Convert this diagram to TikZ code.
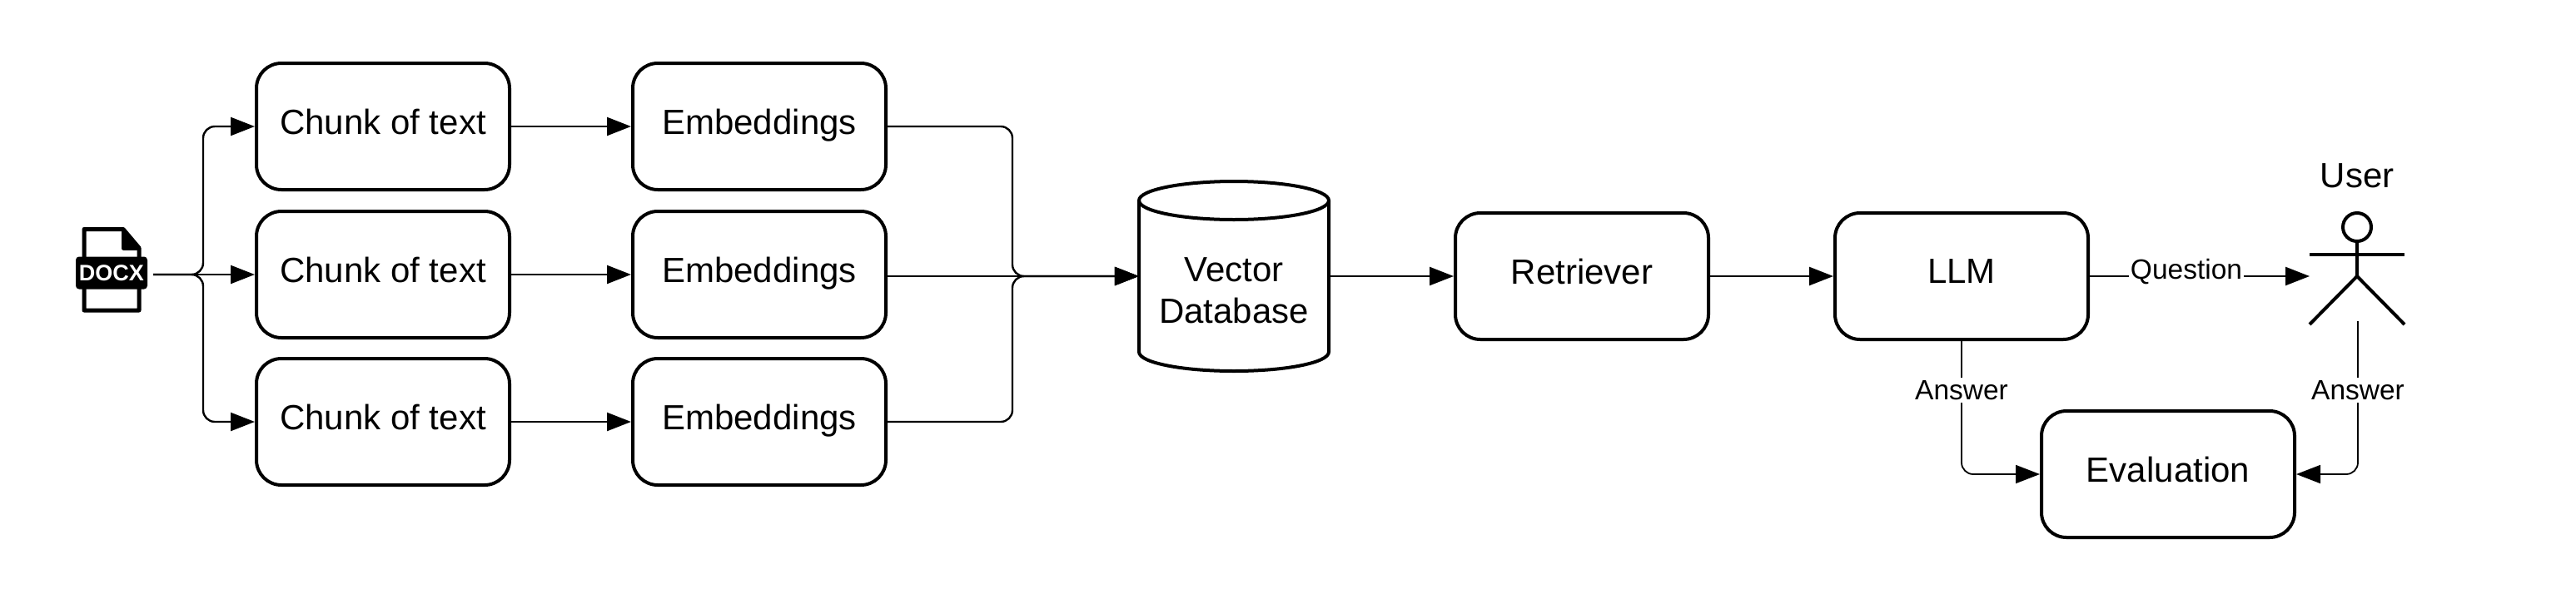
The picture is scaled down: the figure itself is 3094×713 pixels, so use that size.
\documentclass[tikz,border=0pt]{standalone}
\usepackage{fontspec}
\setmainfont{Liberation Sans}
\usetikzlibrary{arrows.meta}
\newcommand{\bigtext}[1]{\fontsize{42}{50}\selectfont\raisebox{12pt}{\vphantom{Ag}#1}}
\tikzset{
  box/.style={draw,line width=4pt,rounded corners=30pt,minimum width=304pt,minimum height=152pt,inner sep=0pt,align=center},
  lbl/.style={fill=white,inner sep=3pt,font=\fontsize{33.5}{40}\selectfont},
  conn/.style={line width=2.4pt,-{Triangle[length=29pt,width=22pt]},rounded corners=14pt},
  thin conn/.style={conn,line width=1.8pt},
}
\begin{document}
\begin{tikzpicture}[x=1pt,y=-1pt]
\useasboundingbox (0,0) rectangle (3094,713);
% DOCX icon
\draw[line width=5pt,line join=round,fill=white] (101,373) -- (101,275.5) -- (148,275.5) -- (167,298) -- (167,373) -- cycle;
\fill[line join=round] (148,275.5) -- (167,298) -- (148,298) -- cycle;
\draw[line width=5pt,line join=round] (148,275.5) -- (148,298) -- (167,298);
\node[fill=black,text=white,rounded corners=4pt,minimum width=86pt,minimum height=39pt,inner sep=0pt,font=\fontsize{27}{32}\selectfont\bfseries] (docx) at (134,328) {DOCX};
\coordinate (docxout) at (184,330);
% Boxes
\node[box] (c1) at (460,152) {\bigtext{Chunk of text}};
\node[box] (c2) at (460,330) {\bigtext{Chunk of text}};
\node[box] (c3) at (460,507) {\bigtext{Chunk of text}};
\node[box] (e1) at (912,152) {\bigtext{Embeddings}};
\node[box] (e2) at (912,330) {\bigtext{Embeddings}};
\node[box] (e3) at (912,507) {\bigtext{Embeddings}};
\node[box] (ret) at (1900,332) {\bigtext{Retriever}};
\node[box] (llm) at (2356,332) {\bigtext{LLM}};
\node[box] (eval) at (2604,570) {\bigtext{Evaluation}};
% Database
\node[minimum width=228pt,minimum height=228pt,inner sep=0pt] (db) at (1482,332) {};
\draw[line width=4pt] (1482,241) ellipse [x radius=114pt,y radius=23pt];
\draw[line width=4pt] (1368,241) -- (1368,423) .. controls (1368,436) and (1420,446) .. (1482,446) .. controls (1544,446) and (1596,436) .. (1596,423) -- (1596,241);
\node[inner sep=0pt,align=center,font=\fontsize{42}{50}\selectfont] (dbtext) at (1482,349) {Vector\\Database};
% Actor
\coordinate (hc) at (2831,273);
\draw[line width=4pt] (hc) circle (17pt);
\draw[line width=4pt] (2831,290) -- (2831,332) -- (2774,390);
\draw[line width=4pt] (2831,332) -- (2888,390);
\draw[line width=4pt] (2774,306) -- (2888,306);
\coordinate (user) at (2774,332);
\coordinate (userfoot) at (2832,386);
\node[font=\fontsize{42}{50}\selectfont,inner sep=0pt] (utext) at (2831,211) {User};
% Connectors
\draw[conn] (docxout) -- (c2.west);
\draw[conn] (docxout) -- (244,330) |- (c1.west);
\draw[conn] (docxout) -- (244,330) |- (c3.west);
\draw[conn] (c1.east) -- (e1.west);
\draw[conn] (c2.east) -- (e2.west);
\draw[conn] (c3.east) -- (e3.west);
\draw[conn] (e2.east |- db.west) -- (db.west);
\draw[conn] (e1.east) -| (1216,332) -- (db.west);
\draw[conn] (e3.east) -| (1216,332) -- (db.west);
\draw[conn] (db.east) -- (ret.west);
\draw[conn] (ret.east) -- (llm.west);
\draw[conn] (llm.east) -- (user);
\node[lbl,inner sep=2pt] (q) at (2626,327) {Question};
\draw[thin conn] (llm.south) |- (eval.west);
\draw[thin conn] (userfoot) |- (eval.east);
\node[lbl] (a1) at (2356,469) {Answer};
\node[lbl] (a2) at (2832,469) {Answer};
\end{tikzpicture}
\end{document}
